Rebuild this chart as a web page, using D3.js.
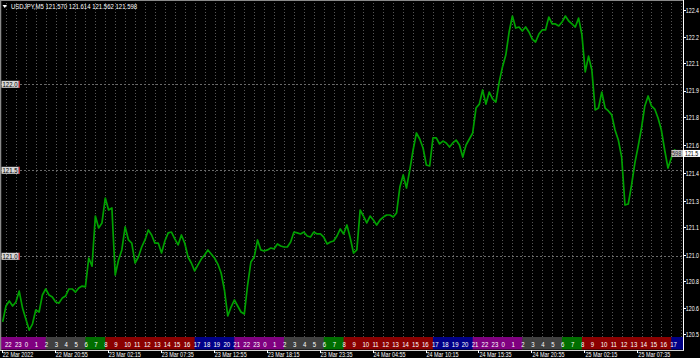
<!DOCTYPE html>
<html><head><meta charset="utf-8">
<script src="https://cdn.jsdelivr.net/npm/d3@7"></script>
<style>html,body{margin:0;padding:0;background:#000;overflow:hidden}svg{display:block}</style>
</head><body><svg id="c" width="700" height="358"></svg>
<script>
// ---------- data ----------
const symbol = "USDJPY,M5";
const ohlcLast = ["121.570", "121.614", "121.562", "121.598"];
const firstBarTime = "2022-03-22T15:35";
const startTime = "2022-03-22T15:40";
const stepMinutes = 20;
const closes = [
 120.619,120.711,120.740,120.711,120.734,120.798,120.699,120.635,120.571,120.606,
 120.688,120.676,120.775,120.810,120.775,120.763,120.734,120.728,120.757,120.769,
 120.810,120.810,120.792,120.816,120.827,120.822,120.990,120.943,121.234,121.165,
 121.194,121.339,121.269,121.281,120.891,120.978,121.037,121.171,121.095,121.077,
 120.961,120.996,121.054,121.095,121.153,121.124,121.077,121.077,121.019,121.089,
 121.136,121.141,121.101,121.066,121.124,121.077,120.996,120.961,120.915,120.950,
 120.984,121.008,121.037,121.013,120.990,120.955,120.903,120.804,120.653,120.705,
 120.746,120.711,120.676,120.664,120.833,120.967,120.996,121.095,121.037,121.031,
 121.037,121.048,121.043,121.072,121.060,121.054,121.054,121.083,121.141,121.136,
 121.130,121.141,121.118,121.112,121.141,121.130,121.130,121.112,121.072,121.083,
 121.089,121.118,121.159,121.130,121.182,121.107,121.019,121.037,121.269,121.234,
 121.194,121.234,121.211,121.182,121.211,121.228,121.240,121.240,121.228,121.252,
 121.403,121.473,121.397,121.502,121.618,121.717,121.682,121.630,121.531,121.525,
 121.688,121.688,121.653,121.670,121.659,121.635,121.659,121.676,121.647,121.577,
 121.647,121.682,121.717,121.862,121.885,121.967,121.885,121.955,121.915,121.897,
 122.013,122.101,122.170,122.304,122.397,122.327,122.333,122.310,122.333,122.304,
 122.263,122.246,122.292,122.316,122.316,122.391,122.351,122.351,122.339,122.362,
 122.397,122.368,122.351,122.333,122.385,122.287,122.072,122.164,122.083,121.851,
 121.862,121.955,121.862,121.845,121.822,121.734,121.676,121.577,121.298,121.304,
 121.415,121.543,121.641,121.746,121.874,121.932,121.874,121.856,121.804,121.734,
 121.618,121.513,121.572,121.618,121.601,121.598
];
const lastPrice = 121.598;
const levelLines = [122.0, 121.5, 121.0];
const priceTicks = [122.432,122.276,122.122,121.963,121.808,121.647,121.484,121.323,121.169,121.009,120.855,120.699,120.548];
const dateTicks = ["2022-03-22T20:55","2022-03-23T02:15","2022-03-23T07:35","2022-03-23T12:55","2022-03-23T18:15",
  "2022-03-23T23:35","2022-03-24T04:55","2022-03-24T10:15","2022-03-24T15:35","2022-03-24T20:55",
  "2022-03-25T02:15","2022-03-25T07:35"];
const sessionHourOffset = 6;
const sessionGroups = [
  {name:"asia",   hours:[21,22,23,0,1],                 color:"#800080"},
  {name:"pre",    hours:[2,3,4,5],                      color:"#404040"},
  {name:"open",   hours:[6,7],                          color:"#006f00"},
  {name:"main",   hours:[8,9,10,11,12,13,14,15,16],     color:"#8b0000"},
  {name:"late",   hours:[17,18,19,20],                  color:"#000088"}
];

// ---------- layout ----------
const W = 700, H = 358;
const plotR = 683, plotB = 350;
const barTop = 337, barBot = 349.5;
const parse = d3.utcParse("%Y-%m-%dT%H:%M");
const FONT = "'Liberation Sans', Arial, sans-serif";
const trunc1 = v => (Math.floor(v * 10 + 1e-9) / 10).toFixed(1); // what the narrow right scale shows

const x = d3.scaleUtc()
  .domain([parse("2022-03-22T20:00"), parse("2022-03-23T20:00")])
  .range([45.7, 45.7 + 24 * 9.93]);
const y = d3.scaleLinear().domain([121.0, 122.0]).range([256.3, 84.3]);

const svg = d3.select("#c");
svg.append("rect").attr("width", W).attr("height", H).attr("fill", "#000");

const defs = svg.append("defs");
defs.append("clipPath").attr("id", "plot").append("rect")
  .attr("x", 0).attr("y", 0).attr("width", plotR).attr("height", plotB);

const plot = svg.append("g").attr("clip-path", "url(#plot)");

const t0 = parse(startTime);
const series = closes.map((v, i) => ({t: d3.utcMinute.offset(t0, i * stepMinutes), v}));
const hours = d3.utcHour.range(parse("2022-03-22T15:00"), parse("2022-03-25T13:00"));

// vertical grid (hourly)
plot.append("g").selectAll("line").data(hours).join("line")
  .attr("x1", d => Math.round(x(d)) + 0.5).attr("x2", d => Math.round(x(d)) + 0.5)
  .attr("y1", 0).attr("y2", barTop)
  .attr("stroke", "#555").attr("stroke-width", 1).attr("stroke-dasharray", "1,2");

// level lines
plot.append("g").selectAll("line").data(levelLines).join("line")
  .attr("x1", 0).attr("x2", plotR)
  .attr("y1", d => Math.round(y(d)) + 0.5).attr("y2", d => Math.round(y(d)) + 0.5)
  .attr("stroke", "#6a6a6a").attr("stroke-width", 1).attr("stroke-dasharray", "2,2");

// price line
plot.append("path").datum(series)
  .attr("d", d3.line().x(d => x(d.t)).y(d => y(d.v)))
  .attr("fill", "none").attr("stroke", "#00a000").attr("stroke-width", 1.7)
  .attr("stroke-linejoin", "round");

// session hour bar
const labelOf = d => (d.getUTCHours() + sessionHourOffset) % 24;
const colorOf = h => sessionGroups.find(g => g.hours.includes(h)).color;
const hb = plot.append("g");
hb.selectAll("rect").data(hours).join("rect")
  .attr("x", d => x(d)).attr("width", d => x(d3.utcHour.offset(d, 1)) - x(d) + 0.5)
  .attr("y", barTop).attr("height", barBot - barTop)
  .attr("fill", d => colorOf(labelOf(d)));
const visibleHours = hours.filter(d => x(d) - 1 >= 0 && x(d) + 7 <= plotR);
hb.selectAll("text").data(visibleHours).join("text")
  .attr("x", d => x(d) - 1).attr("y", barBot - 2.5)
  .attr("fill", "#fff").attr("font-family", FONT).attr("font-size", 7.5)
  .text(d => labelOf(d));

// left level labels
const ll = svg.append("g");
levelLines.forEach(v => {
  const cy = y(v);
  ll.append("rect").attr("x", 1.5).attr("y", cy - 3.5).attr("width", 18).attr("height", 7).attr("fill", "#d6d6d6");
  ll.append("rect").attr("x", 18.5).attr("y", cy - 3.5).attr("width", 1.5).attr("height", 7).attr("fill", "#b02020");
  ll.append("text").attr("x", 2.5).attr("y", cy + 2.6).attr("fill", "#000")
    .attr("font-family", FONT).attr("font-size", 7.5).text(d3.format(".1f")(v));
});

// borders
svg.append("line").attr("x1", 0.5).attr("x2", 0.5).attr("y1", 0).attr("y2", plotB).attr("stroke", "#8a8a8a").attr("stroke-width", 1.5);
svg.append("line").attr("x1", 0).attr("x2", plotR).attr("y1", 0.5).attr("y2", 0.5).attr("stroke", "#8a8a8a");
svg.append("line").attr("x1", plotR + 0.5).attr("x2", plotR + 0.5).attr("y1", 0).attr("y2", plotB + 1).attr("stroke", "#fff");
svg.append("line").attr("x1", 0).attr("x2", plotR + 1).attr("y1", plotB + 0.5).attr("y2", plotB + 0.5).attr("stroke", "#d0d0d0");

// right axis
const ra = svg.append("g");
ra.selectAll("line").data(priceTicks).join("line")
  .attr("x1", plotR).attr("x2", plotR + 3)
  .attr("y1", d => Math.round(y(d)) + 0.5).attr("y2", d => Math.round(y(d)) + 0.5)
  .attr("stroke", "#fff");
ra.selectAll("text").data(priceTicks).join("text")
  .attr("class", "axis").attr("x", plotR + 2.8).attr("y", d => y(d) + 2.8)
  .attr("fill", "#fff").attr("font-family", FONT).attr("font-size", 7.3)
  .text(d => trunc1(d));

// current price label
const ly = y(lastPrice);
svg.append("rect").attr("x", plotR + 1).attr("y", ly - 3.5).attr("width", 17).attr("height", 7).attr("fill", "#fff");
svg.append("text").attr("class", "axis").attr("x", plotR + 2).attr("y", ly + 2.8).attr("fill", "#000")
  .attr("font-family", FONT).attr("font-size", 7.3).text(trunc1(lastPrice));
svg.append("rect").attr("x", 671.5).attr("y", ly - 3.5).attr("width", 11.5).attr("height", 7).attr("fill", "#c8c8c8");
svg.append("text").attr("x", 672).attr("y", ly + 2.6).attr("fill", "#222")
  .attr("font-family", FONT).attr("font-size", 7).text(d3.format(".3f")(lastPrice).slice(-3));

// time axis
const ta = svg.append("g");
const firstT = parse(firstBarTime);
const dateItems = [{t: firstT, s: d3.utcFormat("%d %b %Y")(firstT)}]
  .concat(dateTicks.map(s => { const t = parse(s); return {t, s: d3.utcFormat("%d %b %H:%M")(t)}; }));
ta.selectAll("line").data(dateItems).join("line")
  .attr("x1", d => Math.round(x(d.t)) + 0.5).attr("x2", d => Math.round(x(d.t)) + 0.5)
  .attr("y1", plotB).attr("y2", plotB + 3).attr("stroke", "#fff");
ta.selectAll("text").data(dateItems).join("text")
  .attr("x", d => Math.max(2, x(d.t) + 1)).attr("y", 356.6)
  .attr("fill", "#fff").attr("font-family", FONT).attr("font-size", 6.8)
  .text(d => d.s);

// header
svg.append("path").attr("d", "M2.5,5 L7,5 L4.75,8 Z").attr("fill", "#fff");
svg.append("text").attr("x", 11).attr("y", 9.3).attr("fill", "#fff")
  .attr("font-family", FONT).attr("font-size", 7.5)
  .text(symbol + "  " + ohlcLast.join(" "));

// compress text horizontally (narrow terminal font) via a transform, so its box stays true
svg.selectAll("text").each(function() {
  const sel = d3.select(this);
  const tx = +sel.attr("x"), ty = +sel.attr("y");
  const sx = sel.classed("axis") ? 0.72 : 0.8;
  sel.attr("x", 0).attr("y", 0).attr("transform", `translate(${tx},${ty}) scale(${sx},1)`);
});
</script></body></html>
